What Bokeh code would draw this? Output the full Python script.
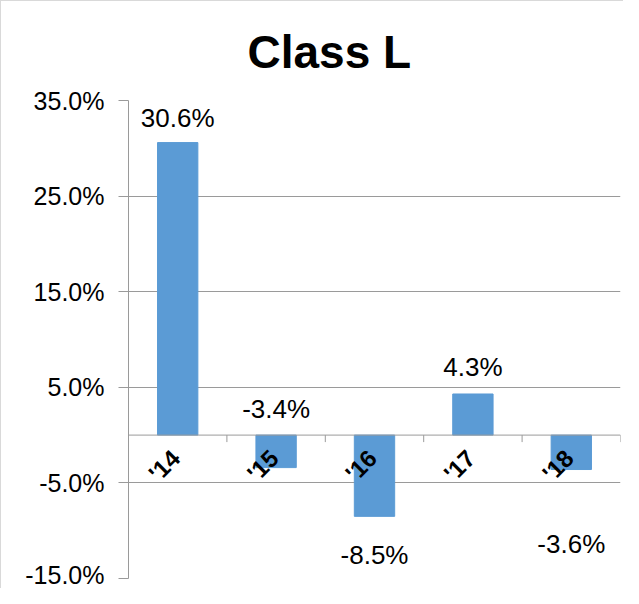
import numpy as np
from bokeh.plotting import figure
from bokeh.models import (ColumnDataSource, FixedTicker, PrintfTickFormatter,
                          Title, Span, Range1d)
from bokeh.core.properties import value
from bokeh.embed import file_html
from bokeh.resources import INLINE

# ---- data ----
categories = ["'14", "'15", "'16", "'17", "'18"]
changes = [30.6, -3.4, -8.5, 4.3, -3.6]
value_labels = ["30.6%", "-3.4%", "-8.5%", "4.3%", "-3.6%"]
y_ticks = [-15, -5, 5, 15, 25, 35]

# ---- styles ----
label_offsets = [-25, -59, 39, -27, 74]   # px offset of each value label from its bar end
BAR = "#5B9BD5"
GRID = "#9a9a9a"
FONT = "Liberation Sans"

n = len(categories)
pos = np.arange(n) + 0.5

src = ColumnDataSource(dict(x=pos, top=changes, lab=value_labels,
                            off=label_offsets, cat=categories))

p = figure(width=623, height=588, output_backend="svg", toolbar_location=None,
           x_range=Range1d(0, n), y_range=Range1d(y_ticks[0], y_ticks[-1]),
           min_border_left=127, min_border_right=4, min_border_top=97,
           min_border_bottom=11, title=None)

p.styles = {"border-left": "1px solid #d9d9d9", "border-top": "1px solid #d9d9d9"}

title = Title(text="Class L", text_font=FONT, text_font_size="46px",
              text_font_style="bold", text_color="black", align="left",
              offset=119, standoff=45)
p.add_layout(title, "above")

p.outline_line_color = None
p.xaxis.visible = False
p.xgrid.visible = False

p.yaxis.ticker = FixedTicker(ticks=y_ticks)
p.yaxis.formatter = PrintfTickFormatter(format="%.1f%%")
p.yaxis.axis_line_color = GRID
p.yaxis.major_tick_line_color = GRID
p.yaxis.major_tick_out = 10
p.yaxis.major_tick_in = 0
p.yaxis.minor_tick_line_color = None
p.yaxis.major_label_text_font = FONT
p.yaxis.major_label_text_font_size = "25px"
p.yaxis.major_label_text_color = "black"
p.yaxis.major_label_standoff = 14

p.ygrid.ticker = FixedTicker(ticks=y_ticks)
p.ygrid.grid_line_color = GRID

p.add_layout(Span(location=0, dimension="width", line_color=GRID, line_width=1))

p.vbar(x="x", top="top", bottom=0, width=0.41, source=src,
       fill_color=BAR, line_color=BAR)

# small tick marks on the zero line at category boundaries
p.ray(x=np.arange(1, n + 1), y=np.zeros(n), length=7, length_units="screen",
      angle=-np.pi / 2, line_color=GRID, line_width=1)

p.text(x="x", y="top", text="lab", source=src, y_offset="off",
       text_align="center", text_baseline="middle",
       text_font=value(FONT), text_font_size="26px", text_color="black")

p.text(x="x", y=0, text="cat", source=src, angle=np.pi / 4,
       x_offset=-2, y_offset=19,
       text_align="right", text_baseline="middle",
       text_font=value(FONT), text_font_size="24px", text_font_style="bold",
       text_color="black")

open("out.html", "w").write(file_html(p, INLINE))
